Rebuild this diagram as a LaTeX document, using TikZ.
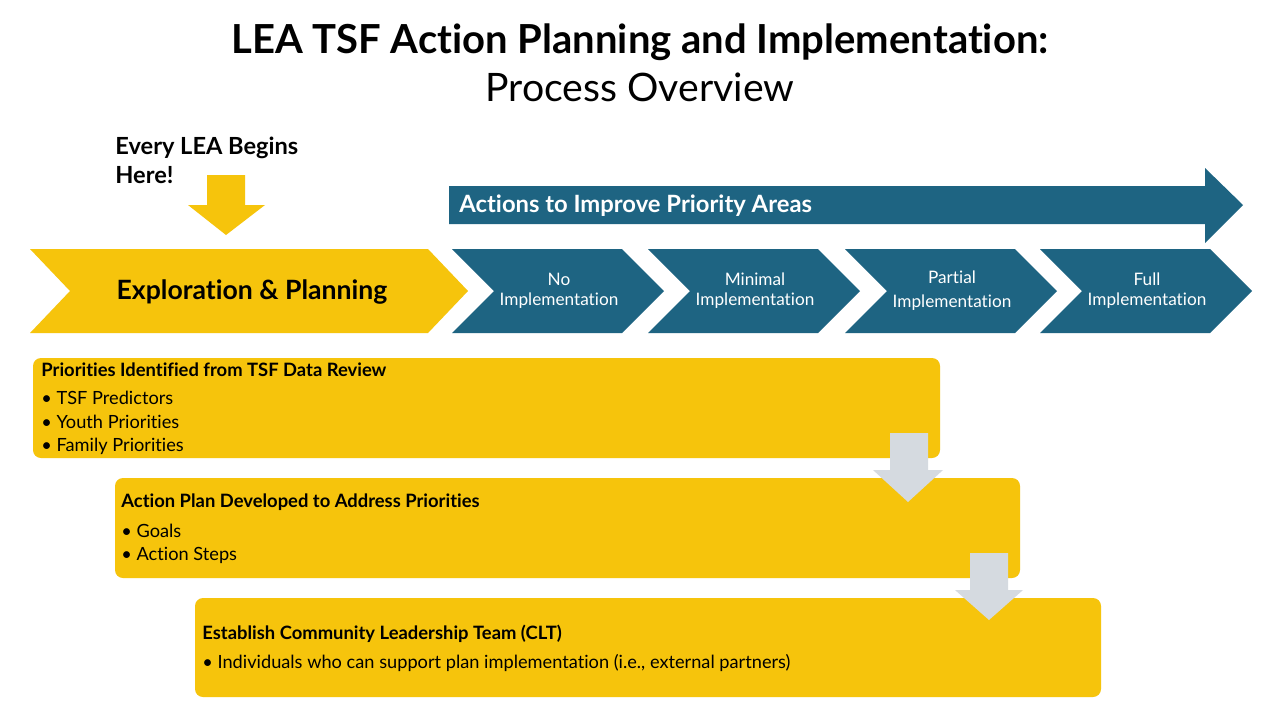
\documentclass[tikz,border=0pt]{standalone}
\usepackage{fontspec}
\setmainfont{Lato}[Ligatures={NoCommon}]
\usetikzlibrary{positioning}

\definecolor{leayellow}{HTML}{F6C40C}
\definecolor{leateal}{HTML}{1E6482}
\definecolor{leagray}{HTML}{D5DAE0}

\tikzset{
  tealchev/.style={fill=leateal},
  yellowbox/.style={fill=leayellow, rounded corners=4pt},
  chevlabel/.style={text=white, align=center, font=\fontsize{8.6}{10}\selectfont},
  boxhead/.style={anchor=west, inner sep=0pt, font=\bfseries\fontsize{9.2}{10}\selectfont},
  boxitem/.style={anchor=west, inner sep=0pt, font=\fontsize{9.1}{10}\selectfont},
}

\begin{document}
\begin{tikzpicture}[x=0.5pt, y=-0.5pt]
    \useasboundingbox[fill=white] (0,0) rectangle (1280,720);

    % Title
    \node[font=\bfseries\fontsize{20}{22}\selectfont] (title) at (640,42) {LEA TSF Action Planning and Implementation:};
    \node[font=\fontsize{19.6}{22}\selectfont] (subtitle) at (640,87) {Process Overview};

    % Start marker
    \node[anchor=north west, inner sep=0pt, align=left, font=\bfseries\fontsize{11.8}{14.5}\selectfont] (start) at (115,137) {Every LEA Begins\\Here!};
    \fill[leayellow] (207,175) -- (245,175) -- (245,205) -- (265,205) -- (226,235) -- (188,205) -- (207,205) -- cycle;

    % Exploration chevron
    \fill[leayellow] (30,249) -- (428,249) -- (468,291) -- (428,333) -- (30,333) -- (70,291) -- cycle;
    \node[font=\bfseries\fontsize{13.3}{15}\selectfont] (explore) at (252,292) {Exploration \& Planning};

    % Actions arrow
    \fill[leateal] (449,186) -- (1205,186) -- (1205,168) -- (1243,205) -- (1205,243) -- (1205,224) -- (449,224) -- cycle;
    \node[anchor=west, inner sep=0pt, text=white, font=\bfseries\fontsize{11.9}{13}\selectfont] (actions) at (459,206) {Actions to Improve Priority Areas};

    % Implementation stages
    \foreach \L/\name/\txt in {452/none/{No\\Implementation}, 648/minimal/{Minimal\\Implementation}, 845/partial/{Partial\\[2pt]Implementation}, 1040/full/{Full\\Implementation}} {
        \fill[tealchev] (\L,249) -- (\L+170,249) -- (\L+212,291) -- (\L+170,333) -- (\L,333) -- (\L+42,291) -- cycle;
        \node[chevlabel] (\name) at (\L+107,291) {\txt};
    }

    % Priorities box
    \fill[yellowbox] (33,358) rectangle (940,458);
    \node[boxhead] (prio) at (41,370) {Priorities Identified from TSF Data Review};
    \node[boxitem] (prio1) at (41,398) {• TSF Predictors};
    \node[boxitem] (prio2) at (41,422) {• Youth Priorities};
    \node[boxitem] (prio3) at (41,446) {• Family Priorities};

    % Action plan box
    \fill[yellowbox] (115,478) rectangle (1020,578);
    \node[boxhead] (plan) at (121,502) {Action Plan Developed to Address Priorities};
    \node[boxitem] (plan1) at (121,531) {• Goals};
    \node[boxitem] (plan2) at (121,555) {• Action Steps};

    % CLT box
    \fill[yellowbox] (195,598) rectangle (1101,697);
    \node[boxhead] (clt) at (202,634) {Establish Community Leadership Team (CLT)};
    \node[boxitem] (clt1) at (202,663) {• Individuals who can support plan implementation (i.e., external partners)};

    % Gray step arrows
    \fill[leagray] (890,433) -- (928,433) -- (928,470) -- (943,470) -- (908,502) -- (873,470) -- (890,470) -- cycle;
    \fill[leagray] (970,553) -- (1008,553) -- (1008,590) -- (1023,590) -- (989,620) -- (955,590) -- (970,590) -- cycle;
\end{tikzpicture}
\end{document}
